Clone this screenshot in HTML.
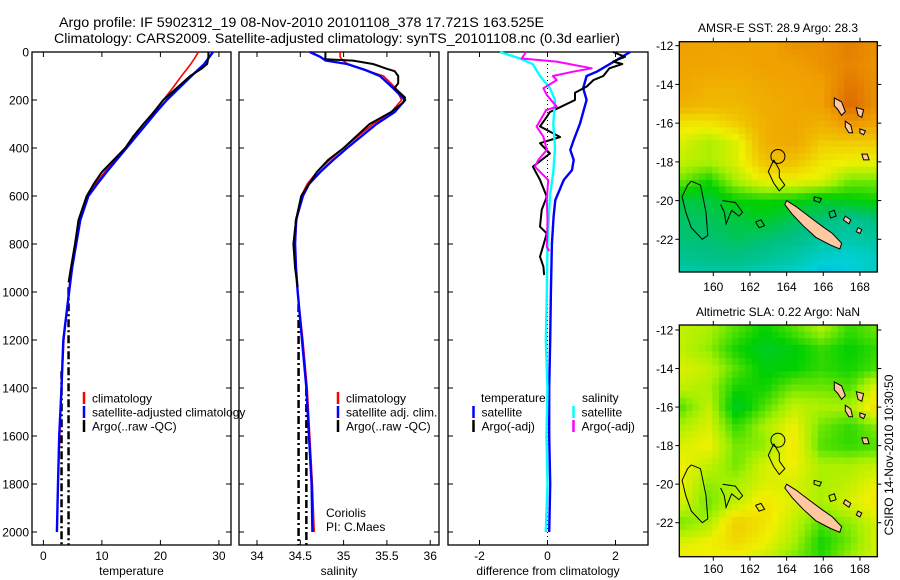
<!DOCTYPE html>
<html><head><meta charset="utf-8"><style>
html,body{margin:0;padding:0;background:#fff}
svg{display:block}
text{font-family:"Liberation Sans",sans-serif;font-size:12px;fill:#000}
</style></head><body>
<svg id="fig" width="900" height="580" viewBox="0 0 900 580" xmlns="http://www.w3.org/2000/svg">
<rect width="900" height="580" fill="#fff"/>
<text x="59" y="27" style="font-size:13.5px" textLength="485" lengthAdjust="spacingAndGlyphs">Argo profile: IF 5902312_19 08-Nov-2010 20101108_378 17.721S 163.525E</text>
<text x="54" y="43" style="font-size:13.5px" textLength="566" lengthAdjust="spacingAndGlyphs">Climatology: CARS2009. Satellite-adjusted climatology: synTS_20101108.nc (0.3d earlier)</text>
<g id="g1"></g>
<g id="g2"></g>
<g id="g3"></g>
<g id="m1"></g>
<g id="m2"></g>
<text x="778" y="32" text-anchor="middle">AMSR-E SST: 28.9 Argo: 28.3</text>
<text x="778" y="316" text-anchor="middle">Altimetric SLA: 0.22 Argo: NaN</text>
<text x="0" y="0" text-anchor="middle" transform="translate(893,455) rotate(-90)">CSIRO 14-Nov-2010 10:30:50</text>
</svg>
<script>
// ---- profile data ----
const depthT = [0,20,50,100,150,200,250,300,350,400,450,500,550,600,700,800,900,1000,1200,1400,1600,1800,2000];
const tempClim = [26.5,26.0,25.2,23.6,22.1,20.5,18.8,17.1,15.6,14.0,12.2,10.5,8.9,7.6,6.1,5.4,4.8,4.3,3.5,3.1,2.8,2.5,2.3];
const tempSat = [29.0,28.4,27.5,25.3,23.2,21.1,19.3,17.6,15.9,14.2,12.5,10.8,9.2,7.7,6.3,5.6,4.9,4.4,3.4,3.1,2.7,2.5,2.3];
const depthTArgo = [0,20,50,70,100,150,200,250,300,350,400,450,500,550,600,700,800,900,960];
const tempArgo = [28.2,28.2,28.0,27.0,25.1,22.8,20.5,18.9,17.1,15.4,14.0,12.0,10.0,8.6,7.4,6.0,5.4,4.7,4.3];

const depthS = [0,20,35,50,75,100,150,200,250,300,350,400,450,500,550,600,700,800,900,1000,1200,1400,1600,1800,2000];
const salClim = [34.96,34.96,34.99,35.05,35.25,35.46,35.6,35.67,35.55,35.34,35.17,35.0,34.84,34.69,34.58,34.51,34.46,34.44,34.45,34.47,34.53,34.58,34.61,34.64,34.66];
const salSat = [34.61,34.73,34.79,35.04,35.25,35.42,35.57,35.71,35.59,35.38,35.21,35.04,34.88,34.73,34.6,34.53,34.45,34.44,34.45,34.47,34.52,34.57,34.60,34.63,34.64];
const depthSArgo = [0,30,36,50,70,80,100,130,150,190,210,250,300,350,400,450,500,550,600,700,800,900,980];
const salArgo = [34.79,34.79,35.11,35.34,35.5,35.59,35.63,35.63,35.59,35.71,35.69,35.55,35.3,35.15,35.0,34.82,34.69,34.6,34.51,34.45,34.42,34.44,34.47];

const depthDSS = [0,27,51,100,150,200,300,400,500,600,800,1000,1200,1400,1600,1800,2000];
const diffSalSat = [-1.4,-0.81,-0.43,-0.22,0.07,0.22,0.17,0.22,0.17,0.07,0.0,-0.02,-0.05,0.0,-0.03,0.0,-0.05];
const depthDSA = [0,27,40,68,82,100,117,151,179,228,242,311,353,408,450,478,533,617,700,811,830];
const diffSalArgo = [-0.63,-0.76,0.27,1.3,0.75,0.16,0.27,-0.12,-0.02,0.27,-0.04,-0.32,-0.12,-0.02,-0.27,-0.37,0.02,-0.02,0.0,-0.02,0.05];
const depthDTA = [0,20,40,50,68,100,117,144,170,200,230,250,270,310,354,380,423,478,533,603,658,728,756,853,894,929];
const diffTempArgo = [1.93,2.28,1.93,2.2,1.82,1.64,1.35,1.15,0.81,0.81,0.37,0.07,-0.02,-0.22,0.37,-0.22,0.07,-0.43,-0.22,-0.02,-0.17,-0.22,-0.02,-0.22,-0.12,-0.1];
const depthDTS = [0,33,82,100,151,200,250,297,367,408,450,492,533,617,686,800,1000,1200,1400,1600,1800,2000];
const diffTempSat = [2.43,2.04,1.45,1.15,1.05,1.15,1.05,0.96,0.77,0.67,0.77,0.72,0.48,0.23,0.18,0.13,0.1,0.08,0.05,0.05,0.08,0.05];

const depthTicks = [0,200,400,600,800,1000,1200,1400,1600,1800,2000];
const tempTicks = [0,10,20,30];
const salTicks = [34,34.5,35,35.5,36];
const diffTicks = [-2,0,2];

// ---- map data (coarse fields, rows lat -12..-24, cols lon 158.2..169) ----
const sstField = [
[0.88,0.87,0.88,0.87,0.9,0.9,0.93,0.9],
[0.87,0.87,0.86,0.88,0.88,0.9,0.92,0.9],
[0.86,0.84,0.84,0.86,0.87,0.88,0.94,0.9],
[0.84,0.82,0.82,0.85,0.86,0.88,0.96,0.9],
[0.74,0.74,0.78,0.84,0.86,0.84,0.9,0.87],
[0.7,0.66,0.7,0.84,0.86,0.78,0.78,0.78],
[0.68,0.66,0.7,0.8,0.8,0.74,0.72,0.72],
[0.62,0.56,0.66,0.72,0.72,0.7,0.62,0.62],
[0.5,0.5,0.55,0.56,0.55,0.52,0.54,0.56],
[0.47,0.48,0.5,0.52,0.48,0.46,0.42,0.45],
[0.46,0.46,0.48,0.46,0.44,0.4,0.38,0.4],
[0.42,0.44,0.44,0.42,0.38,0.32,0.3,0.34],
[0.35,0.36,0.36,0.32,0.3,0.25,0.3,0.34]];
const slaField = [
[.68,.66,.6,.55,.6,.66,.58,.62],
[.68,.64,.56,.52,.54,.58,.55,.58],
[.7,.68,.6,.54,.55,.58,.56,.6],
[.68,.66,.56,.56,.62,.62,.6,.72],
[.6,.68,.52,.6,.68,.66,.66,.76],
[.66,.7,.58,.66,.72,.62,.58,.64],
[.7,.72,.62,.64,.74,.6,.58,.6],
[.72,.68,.62,.7,.72,.66,.66,.68],
[.72,.64,.66,.7,.7,.66,.68,.72],
[.7,.62,.68,.74,.7,.66,.7,.74],
[.62,.66,.78,.74,.68,.6,.64,.7],
[.7,.72,.76,.72,.66,.56,.62,.7],
[.74,.72,.7,.68,.62,.58,.66,.7]];
const argoLon = 163.525, argoLat = -17.721;

const NS = "http://www.w3.org/2000/svg";
function mk(parent, tag, attrs, txt){
  const e = document.createElementNS(NS, tag);
  for (const k in attrs) e.setAttribute(k, attrs[k]);
  if (txt !== undefined) e.textContent = txt;
  parent.appendChild(e); return e;
}
const TOP = 52, BOT = 545;
const yD = d => 52 + d*0.24;

function panel(g, x0, x1, xfun, ticks, fmt, xlabel, showY){
  const r = mk(g,'rect',{x:x0,y:TOP,width:x1-x0,height:BOT-TOP,fill:'none',stroke:'#000','stroke-width':1.3});
   
  depthTicks.forEach(d=>{
    const y=yD(d);
    mk(g,'line',{x1:x0,x2:x0+5,y1:y,y2:y,stroke:'#000'});
    mk(g,'line',{x1:x1,x2:x1-5,y1:y,y2:y,stroke:'#000'});
    if(showY){
      const t = mk(g,'text',{x:x0-3,y:y+4.5,'text-anchor':'end'},String(d));
       
    }
  });
  ticks.forEach(v=>{
    const x=xfun(v);
    mk(g,'line',{x1:x,x2:x,y1:TOP,y2:TOP+5,stroke:'#000'});
    mk(g,'line',{x1:x,x2:x,y1:BOT,y2:BOT-5,stroke:'#000'});
    const t = mk(g,'text',{x:x,y:560,'text-anchor':'middle'},fmt(v));
     
  });
  const xl = mk(g,'text',{x:(x0+x1)/2,y:575,'text-anchor':'middle'},xlabel);
   
}
function line(g, depths, vals, xfun, color, w, name, dash){
  const pts = depths.map((d,i)=>xfun(vals[i]).toFixed(1)+','+yD(d).toFixed(1)).join(' ');
  const a = {points:pts,fill:'none',stroke:color,'stroke-width':w,'stroke-linejoin':'round'};
  if(dash) a['stroke-dasharray']=dash;
  const p = mk(g,'polyline',a);
   
}
function legend(g, x, y, color, label, name){
  mk(g,'line',{x1:x,x2:x,y1:y-6,y2:y+6,stroke:color,'stroke-width':2.5});
  const t = mk(g,'text',{x:x+8,y:y+4.5},label);
   
}
function vdash(g, x, d0, d1){
  mk(g,'line',{x1:x,x2:x,y1:yD(d0),y2:BOT,stroke:'#000','stroke-width':2.5,'stroke-dasharray':'8,3,2,3'});
}

// Temperature panel
const g1 = document.getElementById('g1');
const xT = v => 43.4 + v*5.85;
panel(g1,32,231,xT,tempTicks,v=>String(v),'temperature',true);
vdash(g1, xT(4.3), 980); vdash(g1, xT(3.1), 1330);
line(g1, depthT, tempClim, xT, '#f00', 1.6, 'temp-climatology-line');
line(g1, depthT, tempSat, xT, '#00f', 2.4, 'temp-satellite-line');
line(g1, depthTArgo, tempArgo, xT, '#000', 2, 'temp-argo-line');
legend(g1,84,398,'#f00','climatology','legend-climatology');
legend(g1,84,412,'#00f','satellite-adjusted climatology','legend-satellite');
legend(g1,84,426,'#000','Argo(..raw -QC)','legend-argo');

// Salinity panel
const g2 = document.getElementById('g2');
const xS = v => 257 + (v-34)*86.6;
panel(g2,239,439,xS,salTicks,v=>String(v),'salinity',false);
vdash(g2, xS(34.48), 1050); vdash(g2, xS(34.57), 1400);
line(g2, depthS, salClim, xS, '#f00', 1.6, 'sal-climatology-line');
line(g2, depthS, salSat, xS, '#00f', 2.4, 'sal-satellite-line');
line(g2, depthSArgo, salArgo, xS, '#000', 2, 'sal-argo-line');
legend(g2,338,398,'#f00','climatology','legend-climatology');
legend(g2,338,412,'#00f','satellite adj. clim.','legend-satellite');
legend(g2,338,426,'#000','Argo(..raw -QC)','legend-argo');
const c1 = mk(g2,'text',{x:326,y:517},'Coriolis');  
const c2 = mk(g2,'text',{x:326,y:531},'PI: C.Maes');  

// Difference panel
const g3 = document.getElementById('g3');
const xDf = v => 547.5 + v*34;
panel(g3,448,648,xDf,diffTicks,v=>String(v),'difference from climatology',false);
mk(g3,'line',{x1:xDf(0),x2:xDf(0),y1:TOP,y2:BOT,stroke:'#000','stroke-width':1,'stroke-dasharray':'1,3'});
line(g3, depthDTS, diffTempSat, xDf, '#00f', 2.4, 'diff-temp-satellite-line');
line(g3, depthDTA, diffTempArgo, xDf, '#000', 2, 'diff-temp-argo-line');
line(g3, depthDSS, diffSalSat, xDf, '#0ff', 2.4, 'diff-sal-satellite-line');
line(g3, depthDSA, diffSalArgo, xDf, '#f0f', 2, 'diff-sal-argo-line');
const lt = mk(g3,'text',{x:481,y:402},'temperature');  
const ls = mk(g3,'text',{x:582,y:402},'salinity');  
legend(g3,473.5,412,'#00f','satellite','legend-temp-satellite');
legend(g3,473.5,426,'#000','Argo(-adj)','legend-temp-argo');
legend(g3,573.5,412,'#0ff','satellite','legend-sal-satellite');
legend(g3,573.5,426,'#f0f','Argo(-adj)','legend-sal-argo');

// ---- maps ----
const cmapStops = [[0,[0,0,160]],[0.15,[0,96,255]],[0.3,[0,208,216]],[0.45,[0,192,128]],[0.55,[0,208,0]],[0.65,[160,240,0]],[0.72,[240,240,0]],[0.8,[240,192,0]],[0.88,[240,160,0]],[0.95,[224,112,0]],[1,[192,32,0]]];
function cmap(v){
  v=Math.max(0,Math.min(1,v));
  for(let i=1;i<cmapStops.length;i++){
    if(v<=cmapStops[i][0]){
      const [a,ca]=cmapStops[i-1],[b,cb]=cmapStops[i];const t=(v-a)/(b-a);
      return 'rgb('+ca.map((c,k)=>Math.round(c+(cb[k]-c)*t)).join(',')+')';
    }
  }
  return 'rgb(192,32,0)';
}
function sample(field, lon, lat){
  let r = -12 - lat; let c = (lon-158.2)/(10.8/7);
  r=Math.max(0,Math.min(11.999,r)); c=Math.max(0,Math.min(6.999,c));
  const r0=Math.floor(r),c0=Math.floor(c),fr=r-r0,fc=c-c0;
  return field[r0][c0]*(1-fr)*(1-fc)+field[r0][c0+1]*(1-fr)*fc+field[r0+1][c0]*fr*(1-fc)+field[r0+1][c0+1]*fr*fc;
}
const landNC = [[164.0,-20.0],[164.5,-20.3],[165.2,-20.8],[165.9,-21.3],[166.5,-21.7],[167.0,-22.2],[166.9,-22.5],[166.4,-22.3],[165.6,-21.9],[164.9,-21.3],[164.3,-20.7],[163.9,-20.2]];
const landIslands = [
 [[166.6,-14.7],[167.0,-14.9],[167.2,-15.4],[167.0,-15.6],[166.8,-15.3],[166.6,-15.1]],
 [[167.2,-15.9],[167.5,-16.1],[167.6,-16.5],[167.4,-16.5],[167.2,-16.2]],
 [[168.1,-17.6],[168.4,-17.6],[168.5,-17.9],[168.2,-17.9]],
 [[168.0,-16.3],[168.3,-16.4],[168.2,-16.6],[168.0,-16.5]],
 [[167.8,-15.2],[168.2,-15.3],[168.1,-15.7],[167.9,-15.6]],
 [[167.2,-20.8],[167.5,-21.0],[167.4,-21.2],[167.1,-21.0]],
 [[167.9,-21.4],[168.1,-21.5],[168.0,-21.7],[167.8,-21.6]]];
const reefLines = [
 [[158.8,-19.0],[159.3,-19.2],[159.6,-20.6],[159.7,-21.8],[159.4,-22.0],[158.8,-21.4],[158.5,-20.6],[158.3,-19.8],[158.6,-19.2],[158.8,-19.0]],
 [[160.5,-20.0],[161.2,-20.1],[161.6,-20.6],[161.4,-20.8],[161.0,-20.5],[160.7,-21.2],[160.6,-20.6],[160.4,-20.2]],
 [[163.3,-17.9],[163.6,-18.4],[163.6,-18.8],[163.9,-19.2],[163.6,-19.5],[163.3,-19.1],[163.0,-18.5],[163.3,-17.9]],
 [[165.5,-19.8],[165.9,-19.9],[165.8,-20.1],[165.5,-20.0],[165.5,-19.8]],
 [[162.3,-21.1],[162.6,-21.0],[162.8,-21.3],[162.5,-21.4],[162.3,-21.1]],
 [[166.3,-20.6],[166.6,-20.5],[166.7,-20.8],[166.4,-20.9],[166.3,-20.6]]];
const lonTicks = [160,162,164,166,168];
const latTicks = [-12,-14,-16,-18,-20,-22];

function drawMap(g, field, x0, x1, y0, y1, latY0, latY22, xlabY){
  const lonX = lon => 713.3 + (lon-160)*18.33;
  const latS = (latY22-latY0)/10;
  const latY = lat => latY0 + (-12-lat)*latS;
  const nx=30, ny=35, cw=(x1-x0)/nx, ch=(y1-y0)/ny;
  for(let j=0;j<ny;j++) for(let i=0;i<nx;i++){
    const cx=x0+(i+0.5)*cw, cy=y0+(j+0.5)*ch;
    const lon=160+(cx-713.3)/18.33, lat=-12-(cy-latY0)/latS;
    const c = mk(g,'rect',{x:(x0+i*cw).toFixed(2),y:(y0+j*ch).toFixed(2),width:(cw+0.4).toFixed(2),height:(ch+0.4).toFixed(2),fill:cmap(sample(field,lon,lat))});
     
  }
  const pts = arr => arr.map(p=>lonX(p[0]).toFixed(1)+','+latY(p[1]).toFixed(1)).join(' ');
  reefLines.forEach(l=>{ const p=mk(g,'polyline',{points:pts(l),fill:'none',stroke:'#000','stroke-width':1});
      });
  [landNC].concat(landIslands).forEach(l=>{ const p=mk(g,'polygon',{points:pts(l),fill:'#ffc8a0',stroke:'#000','stroke-width':1});
      });
  const m = mk(g,'circle',{cx:lonX(argoLon),cy:latY(argoLat),r:7,fill:'none',stroke:'#000','stroke-width':1});
   
  const fr = mk(g,'rect',{x:x0,y:y0,width:x1-x0,height:y1-y0,fill:'none',stroke:'#000','stroke-width':1.3});
   
  lonTicks.forEach(v=>{ const x=lonX(v);
    mk(g,'line',{x1:x,x2:x,y1:y0,y2:y0-4,stroke:'#000'});
    mk(g,'line',{x1:x,x2:x,y1:y1,y2:y1+4,stroke:'#000'});
    const t=mk(g,'text',{x:x,y:xlabY,'text-anchor':'middle'},String(v));   });
  latTicks.forEach(v=>{ const y=latY(v);
    mk(g,'line',{x1:x0,x2:x0-4,y1:y,y2:y,stroke:'#000'});
    mk(g,'line',{x1:x1,x2:x1+4,y1:y,y2:y,stroke:'#000'});
    const t=mk(g,'text',{x:x0-6,y:y+4.5,'text-anchor':'end'},String(v));   });
}
drawMap(document.getElementById('m1'), sstField, 679.3, 877.3, 41.7, 272, 45.7, 239.3, 291);
drawMap(document.getElementById('m2'), slaField, 679.3, 877.3, 325, 556.7, 330, 522.7, 573);
</script>
</body></html>
